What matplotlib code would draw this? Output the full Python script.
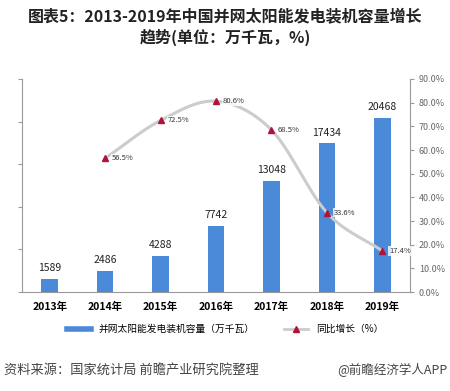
import matplotlib
matplotlib.use("Agg")
import matplotlib.pyplot as plt
import numpy as np
from matplotlib.lines import Line2D

plt.rcParams['font.family'] = ['Noto Sans CJK SC', 'DejaVu Sans']

years = ['2013年', '2014年', '2015年', '2016年', '2017年', '2018年', '2019年']
capacity = [1589, 2486, 4288, 7742, 13048, 17434, 20468]
growth = [None, 56.5, 72.5, 80.6, 68.5, 33.6, 17.4]
right_ticks = [0, 10, 20, 30, 40, 50, 60, 70, 80, 90]

fig = plt.figure(figsize=(4.5, 3.91), dpi=100)
ax = fig.add_axes([0.049, 0.253, 0.862, 0.545])
x = np.arange(len(years))
ax.bar(x, capacity, width=0.3, color='#4a8ad8', zorder=2)
ax.set_xlim(-0.5, 6.5)
ax.set_ylim(0, 25000)
ax.set_yticks(np.arange(0, 25001, 5000))
ax.set_yticklabels([])
ax.tick_params(axis='y', length=3, color='#999999')
ax.set_xticks(x)
ax.set_xticklabels(years, fontsize=7.5, fontweight='bold')
ax.tick_params(axis='x', length=0, pad=7)
for s in ['top', 'right']:
    ax.spines[s].set_visible(False)
ax.spines['left'].set_color('#999999')
ax.spines['bottom'].set_color('#999999')
for xi, v in zip(x, capacity):
    ax.text(xi, v + 700, str(v), ha='center', va='bottom', fontsize=7.5, color='#222222')

ax2 = ax.twinx()
ax2.set_ylim(0, 90)
ax2.set_yticks(right_ticks)
ax2.set_yticklabels([f'{t:.1f}%' for t in right_ticks], fontsize=6.5, color='#666666')
ax2.tick_params(axis='y', length=3, color='#999999')
for s in ['top', 'left', 'bottom']:
    ax2.spines[s].set_visible(False)
ax2.spines['right'].set_color('#999999')

gx = np.array([i for i, g in enumerate(growth) if g is not None], dtype=float)
gy = np.array([g for g in growth if g is not None], dtype=float)
# Catmull-Rom smoothing for the drawn path
px = np.concatenate([[2*gx[0]-gx[1]], gx, [2*gx[-1]-gx[-2]]])
py = np.concatenate([[2*gy[0]-gy[1]], gy, [2*gy[-1]-gy[-2]]])
sx, sy = [], []
t = np.linspace(0, 1, 30)
for i in range(1, len(px)-2):
    p0, p1, p2, p3 = px[i-1], px[i], px[i+1], px[i+2]
    q0, q1, q2, q3 = py[i-1], py[i], py[i+1], py[i+2]
    sx.append(0.5*((2*p1)+(-p0+p2)*t+(2*p0-5*p1+4*p2-p3)*t**2+(-p0+3*p1-3*p2+p3)*t**3))
    sy.append(0.5*((2*q1)+(-q0+q2)*t+(2*q0-5*q1+4*q2-q3)*t**2+(-q0+3*q1-3*q2+q3)*t**3))
sx = np.concatenate(sx); sy = np.concatenate(sy)
ax2.plot(sx, sy, color='#cccccc', lw=2.2, zorder=3, solid_capstyle='round')
ax2.plot(gx, gy, ls='none', marker='^', color='#b0123a', markersize=5, zorder=4)
for xi, g in zip(gx, gy):
    ax2.text(xi + 0.12, g, f'{g}%', ha='left', va='center', fontsize=5.5, color='#333333', zorder=5,
             bbox=dict(facecolor='white', edgecolor='none', pad=0.5, alpha=0.8))

fig.text(0.5, 0.958, '图表5：2013-2019年中国并网太阳能发电装机容量增长', ha='center', va='center',
         fontsize=11.5, fontweight='bold', color='#222222')
fig.text(0.5, 0.905, '趋势(单位：万千瓦，%)', ha='center', va='center',
         fontsize=11.5, fontweight='bold', color='#222222')

handles = [Line2D([0], [0], color='#4a8ad8', lw=4),
           Line2D([0], [0], color='#cccccc', lw=2, marker='^', markerfacecolor='#b0123a',
                  markeredgecolor='#b0123a', markersize=4)]
fig.legend(handles, ['并网太阳能发电装机容量（万千瓦）', '同比增长（%）'], loc='center',
           bbox_to_anchor=(0.5, 0.158), ncol=2, frameon=False, fontsize=7, handlelength=2.5,
           columnspacing=3)

fig.text(0.01, 0.053, '资料来源：国家统计局 前瞻产业研究院整理', ha='left', va='center', fontsize=9.5, color='#444444')
fig.text(0.995, 0.053, '@前瞻经济学人APP', ha='right', va='center', fontsize=9, color='#444444')

fig.savefig('out.png', dpi=100)
